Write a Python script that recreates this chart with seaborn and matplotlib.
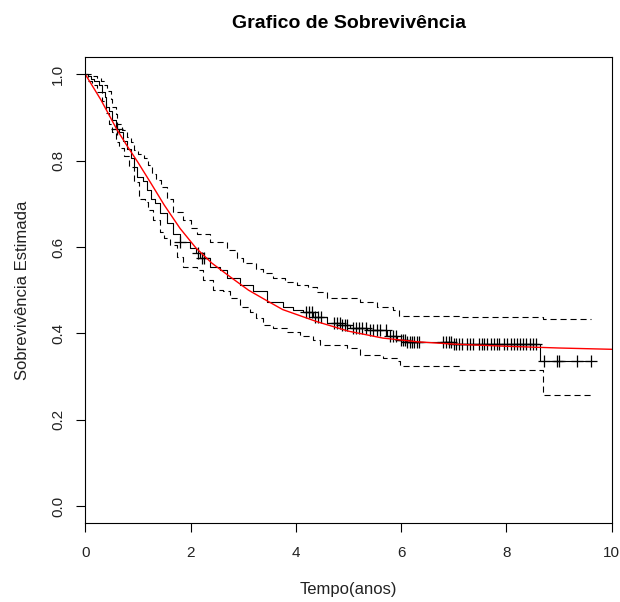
import matplotlib
matplotlib.use("Agg")
from matplotlib import pyplot as plt
import numpy as np
import pandas as pd
import seaborn as sns

# Kaplan-Meier estimate (step times and survival after each step)
km_time = [0, 0.05, 0.1, 0.165, 0.26, 0.323, 0.368, 0.388, 0.45, 0.513,
           0.577, 0.64, 0.72, 0.798, 0.86, 0.925, 0.988, 1.1, 1.166, 1.24,
           1.324, 1.419, 1.546, 1.672, 1.80, 1.99, 2.1, 2.18, 2.37, 2.56,
           2.69, 2.94, 3.19, 3.45, 3.76, 3.95, 4.14, 4.33, 4.59, 4.84,
           5.03, 5.35, 5.73, 5.92, 6.1, 7.0, 8.64]
km_surv = [1.0, 0.995, 0.99, 0.985, 0.974, 0.958, 0.947, 0.924, 0.916, 0.893,
           0.874, 0.866, 0.845, 0.828, 0.805, 0.785, 0.762, 0.752, 0.731, 0.712,
           0.701, 0.678, 0.655, 0.631, 0.612, 0.597, 0.585, 0.574, 0.554, 0.547,
           0.527, 0.512, 0.497, 0.473, 0.462, 0.454, 0.45, 0.437, 0.424, 0.42,
           0.412, 0.407, 0.394, 0.385, 0.38, 0.376, 0.335]
km_end = 9.61

# confidence band (upper / lower), also step functions
up_time = [0, 0.12, 0.228, 0.29, 0.355, 0.418, 0.48, 0.513, 0.577, 0.608,
           0.703, 0.798, 0.862, 0.925, 1.0, 1.115, 1.2, 1.273, 1.35, 1.432,
           1.558, 1.672, 1.862, 2.0, 2.116, 2.369, 2.686, 2.876, 3.0, 3.25,
           3.38, 3.57, 3.8, 4.02, 4.24, 4.4, 4.59, 5.22, 5.54, 5.85,
           5.95, 7.1, 8.69]
up_surv = [1.0, 0.997, 0.992, 0.985, 0.974, 0.962, 0.943, 0.924, 0.908, 0.885,
           0.870, 0.855, 0.843, 0.824, 0.815, 0.805, 0.79, 0.77, 0.755, 0.739,
           0.712, 0.681, 0.662, 0.645, 0.631, 0.612, 0.593, 0.574, 0.562, 0.55,
           0.539, 0.527, 0.52, 0.512, 0.508, 0.495, 0.481, 0.473, 0.462, 0.454,
           0.44, 0.437, 0.434]
lo_time = [0, 0.06, 0.133, 0.228, 0.323, 0.388, 0.45, 0.513, 0.577, 0.64,
           0.735, 0.83, 0.925, 1.02, 1.134, 1.2, 1.292, 1.419, 1.5, 1.609,
           1.736, 1.862, 2.116, 2.242, 2.432, 2.622, 2.749, 2.939, 3.13, 3.25,
           3.382, 3.572, 3.826, 4.079, 4.331, 4.459, 4.965, 5.218, 5.661, 5.915,
           5.978, 7.1, 8.69]
lo_surv = [1.0, 0.985, 0.974, 0.958, 0.939, 0.91, 0.885, 0.866, 0.843, 0.83,
           0.81, 0.785, 0.751, 0.712, 0.704, 0.685, 0.662, 0.635, 0.62, 0.604,
           0.577, 0.554, 0.547, 0.524, 0.50, 0.497, 0.481, 0.462, 0.45, 0.435,
           0.42, 0.412, 0.404, 0.393, 0.385, 0.373, 0.366, 0.35, 0.343, 0.335,
           0.325, 0.316, 0.256]
ci_end = 9.6

# censored observations
cens_time = [0.6, 1.8, 2.15, 2.22, 2.26,
             4.2, 4.25, 4.3, 4.36, 4.42, 4.47, 4.72, 4.78, 4.83, 4.88, 4.93, 4.98,
             5.08, 5.14, 5.2, 5.26, 5.33, 5.4, 5.47, 5.54, 5.6, 5.72, 5.78, 5.85, 5.91,
             6.0, 6.04, 6.08, 6.12, 6.16, 6.2, 6.25, 6.3, 6.34,
             6.8, 6.85, 6.9, 6.95, 7.0, 7.05, 7.1, 7.15, 7.25, 7.3, 7.37,
             7.48, 7.53, 7.58, 7.64, 7.7, 7.76, 7.82, 7.86,
             7.96, 8.02, 8.08, 8.14, 8.2, 8.26, 8.32, 8.38, 8.44, 8.5, 8.56,
             8.72, 8.97, 9.0, 9.35, 9.61]

# fitted parametric survival curve
fit_time = [0, 0.15, 0.3, 0.45, 0.6, 0.8, 1.0, 1.25, 1.5, 1.8, 2.1, 2.4, 2.75,
            3.1, 3.4, 3.75, 4.4, 5.0, 5.65, 6.35, 7.0, 8.0, 9.0, 10.0]
fit_surv = [1.0, 0.97, 0.94, 0.906, 0.872, 0.833, 0.796, 0.747, 0.697, 0.643,
            0.598, 0.563, 0.531, 0.50, 0.479, 0.455, 0.427, 0.405, 0.389, 0.380,
            0.375, 0.370, 0.366, 0.363]


def step_df(times, surv, end):
    return pd.DataFrame({"t": list(times) + [end], "s": list(surv) + [surv[-1]]})


sns.set_theme(style="white")
plt.rcParams["font.family"] = ["Liberation Sans", "DejaVu Sans"]

fig = plt.figure(figsize=(6.2, 6.02), dpi=100)
ax = fig.add_axes([85.3 / 620, 1 - 523.3 / 602, 526.4 / 620, 466.3 / 602])

# KM curve and confidence band
sns.lineplot(data=step_df(km_time, km_surv, km_end), x="t", y="s", ax=ax,
             color="black", linewidth=0.8, drawstyle="steps-post",
             estimator=None, sort=False)
for times, surv in [(up_time, up_surv), (lo_time, lo_surv)]:
    sns.lineplot(data=step_df(times, surv, ci_end), x="t", y="s", ax=ax,
                 color="black", linewidth=0.8, drawstyle="steps-post",
                 estimator=None, sort=False, dashes=False,
                 linestyle=(0, (5.5, 3.5)))

# censoring marks on the KM curve
idx = np.searchsorted(km_time, cens_time, side="right") - 1
cens_surv = np.array(km_surv)[idx]
ax.plot(cens_time, cens_surv, linestyle="none", marker="+", markersize=9,
        markeredgewidth=0.9, color="black")

# fitted curve
fit_df = pd.DataFrame({"t": fit_time, "s": fit_surv})
sns.lineplot(data=fit_df, x="t", y="s", ax=ax, color="red", linewidth=1.0,
             estimator=None, sort=False)

ax.set_xlim(0, 10)
ax.set_ylim(-0.04, 1.04)
ax.set_xticks([0, 2, 4, 6, 8, 10])
ax.set_yticks([0.0, 0.2, 0.4, 0.6, 0.8, 1.0])
ax.set_yticklabels(["0.0", "0.2", "0.4", "0.6", "0.8", "1.0"], rotation=90,
                   va="center")

for sp in ax.spines.values():
    sp.set_color("black")
    sp.set_linewidth(0.8)

ax.tick_params(axis="both", which="major", direction="out", length=6.5,
               width=0.8, color="black", labelsize=11, labelcolor="#222222",
               bottom=True, left=True)
ax.tick_params(axis="x", pad=10)
ax.tick_params(axis="y", pad=8)

ax.set_xlabel("Tempo(anos)", fontsize=12, color="#222222", labelpad=16)
ax.set_ylabel("Sobrevivência Estimada", fontsize=12, color="#222222", labelpad=15)

fig.text(348.5 / 620, 1 - 23 / 602, "Grafico de Sobrevivência", ha="center",
         va="center", fontsize=14, fontweight="bold", color="black")

fig.savefig("out.png", dpi=100, facecolor="white")
